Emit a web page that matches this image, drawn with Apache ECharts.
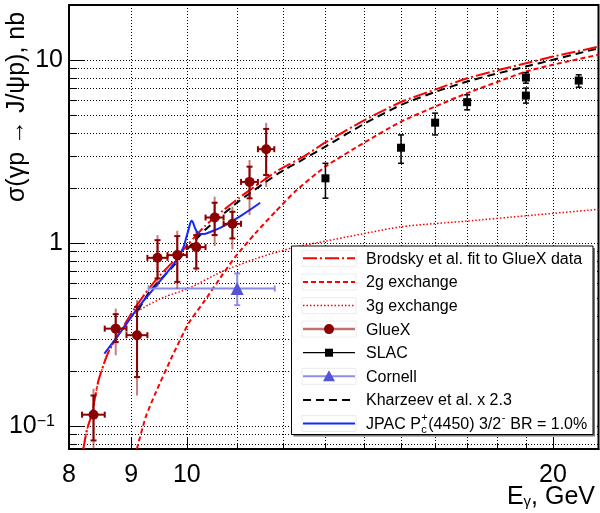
<!DOCTYPE html>
<html><head><meta charset="utf-8">
<script src="https://cdn.jsdelivr.net/npm/echarts@6/dist/echarts.min.js"></script>
<style>html,body{margin:0;padding:0;background:#fff}#c{width:600px;height:513px}</style>
</head><body><div id="c"></div>
<script>
const FONT = '"Liberation Sans", Arial, Helvetica, sans-serif';

// ---------- axis ranges / ticks ----------
const xMin = 8, xMax = 21.8, yMin = 0.075, yMax = 20;
const xGridValues = [9, 10, 11, 12, 13, 14, 15, 16, 17, 18, 19, 20];
const xMajorTicks = [9, 10, 20];
const xLabelValues = [8, 9, 10, 20];
const xTickLabels = ['8', '9', '10', '20'];
const yGridValues = [0.08, 0.09, 0.1, 0.2, 0.3, 0.4, 0.5, 0.6, 0.7, 0.8, 0.9, 1, 2, 3, 4, 5, 6, 7, 8, 9, 10, 20];
const yLabelValues = [0.1, 1, 10];
const yTickLabels = ['{b|10}{s|\u22121}{p|}', '{b|1}', '{b|10}'];

// ---------- curves ----------
const brodskyE = [8.22, 8.275, 8.354, 8.46, 8.62, 8.9, 9.07, 9.24, 9.45, 9.72, 10.03, 10.35, 10.7, 11.03, 11.5, 11.9, 12.5, 13.0, 14.0, 15.0, 16.0, 17.0, 18.0, 19.0, 20.0, 21.0, 21.8];
const brodskySigma = [0.075, 0.095, 0.117, 0.178, 0.254, 0.365, 0.445, 0.53, 0.64, 0.78, 0.99, 1.24, 1.5, 1.76, 2.15, 2.51, 3.0, 3.55, 4.7, 5.9, 6.9, 7.95, 8.8, 9.6, 10.45, 11.2, 11.85];

const g2E = [9.097, 9.25, 9.419, 9.72, 10.03, 10.35, 10.69, 10.96, 11.38, 11.82, 12.28, 13.0, 14.0, 15.0, 16.0, 17.0, 18.0, 19.0, 20.0, 21.8];
const g2Sigma = [0.075, 0.112, 0.1504, 0.2385, 0.3634, 0.4877, 0.668, 0.841, 1.13, 1.48, 1.92, 2.62, 3.55, 4.61, 5.57, 6.6, 7.6, 8.66, 9.43, 10.7];

const g3E = [8.22, 8.275, 8.354, 8.46, 8.62, 8.9, 9.07, 9.3, 9.6, 10.03, 10.69, 11.38, 11.9, 12.35, 13.0, 15.0, 17.0, 19.0, 21.8];
const g3Sigma = [0.075, 0.095, 0.117, 0.178, 0.254, 0.36, 0.415, 0.46, 0.51, 0.565, 0.70, 0.82, 0.9, 0.96, 1.025, 1.228, 1.32, 1.41, 1.53];

const khE = [9.12, 9.33, 9.72, 10.03, 10.35, 11.03, 11.9, 12.5, 13.0, 14.0, 15.0, 16.0, 17.0, 18.0, 19.0, 20.0, 21.0, 21.8];
const khSigma = [0.43, 0.55, 0.735, 0.94, 1.18, 1.69, 2.41, 2.9, 3.37, 4.5, 5.69, 6.7, 7.64, 8.45, 9.22, 10.04, 10.9, 11.6];

const jpacE = [8.554, 8.843, 9.126, 9.419, 9.783, 9.938, 9.98, 10.03, 10.07, 10.095, 10.12, 10.16, 10.22, 10.32, 10.45, 10.69, 11.10, 11.49];
const jpacSigma = [0.249, 0.334, 0.448, 0.576, 0.790, 0.954, 1.05, 1.18, 1.30, 1.325, 1.29, 1.20, 1.13, 1.12, 1.15, 1.228, 1.423, 1.662];

// ---------- data points ----------
const gluexE = [8.38, 8.74, 9.10, 9.46, 9.82, 10.18, 10.54, 10.90, 11.26, 11.62];
const gluexSigma = [0.1155, 0.341, 0.314, 0.831, 0.86, 0.951, 1.38, 1.275, 2.16, 3.26];
const gluexELo = [8.20, 8.56, 8.92, 9.28, 9.64, 10.00, 10.36, 10.72, 11.08, 11.44];
const gluexEHi = [8.56, 8.92, 9.28, 9.64, 10.00, 10.36, 10.72, 11.08, 11.44, 11.80];
const gluexStatLo = [0.0835, 0.288, 0.1854, 0.641, 0.614, 0.727, 1.106, 1.061, 1.757, 2.356];
const gluexStatHi = [0.147, 0.409, 0.448, 1.038, 1.092, 1.106, 1.662, 1.483, 2.616, 4.207];
const gluexTotLo = [0.075, 0.244, 0.147, 0.577, 0.565, 0.705, 0.963, 0.924, 1.423, 2.025];
const gluexTotHi = [0.16, 0.439, 0.488, 1.106, 1.168, 1.16, 1.793, 1.58, 2.846, 4.54];

const slacE = [13.0, 15.0, 16.0, 17.0, 19.0, 19.0, 21.0];
const slacSigma = [2.26, 3.32, 4.55, 5.89, 8.03, 6.4, 7.73];
const slacLo = [1.76, 2.73, 3.9, 5.35, 7.48, 5.82, 7.11];
const slacHi = [2.73, 3.9, 5.13, 6.46, 8.55, 7.03, 8.31];

const cornellE = [11.0];
const cornellSigma = [0.565];
const cornellELo = [9.30];
const cornellEHi = [11.81];
const cornellLo = [0.458];
const cornellHi = [0.683];

// ---------- helpers ----------
const zip = (a, b) => a.map((v, i) => [v, b[i]]);
const RED = '#ff0000', DARKRED = '#8b0000', LIGHTRED = 'rgba(139,0,0,0.5)';
const BLUE = '#1428ff', CORN_M = '#5353dc', CORN_L = '#8c8ce9';

function line(x1, y1, x2, y2, style) {
  return { type: 'line', shape: { x1, y1, x2, y2 }, style };
}

function renderGlueX(params, api) {
  const x = api.value(0), y = api.value(1);
  const c = api.coord([x, y]);
  const xl = api.coord([api.value(2), y])[0], xh = api.coord([api.value(3), y])[0];
  const sl = api.coord([x, api.value(4)])[1], sh = api.coord([x, api.value(5)])[1];
  const tl = api.coord([x, api.value(6)])[1], th = api.coord([x, api.value(7)])[1];
  const light = { stroke: LIGHTRED, lineWidth: 2 };
  const dark = { stroke: DARKRED, lineWidth: 2 };
  const cap = 3;
  return { type: 'group', children: [
    line(c[0], tl, c[0], th, light),
    line(c[0], sl, c[0], sh, dark),
    line(c[0] - cap, sl, c[0] + cap, sl, dark),
    line(c[0] - cap, sh, c[0] + cap, sh, dark),
    line(xl, c[1], xh, c[1], dark),
    line(xl, c[1] - cap, xl, c[1] + cap, dark),
    line(xh, c[1] - cap, xh, c[1] + cap, dark)
  ]};
}

function renderSimple(color, width, withX) {
  return function (params, api) {
    const x = api.value(0), y = api.value(1);
    const c = api.coord([x, y]);
    const st = { stroke: color, lineWidth: width };
    const cap = 3;
    const ch = [];
    const lo = api.coord([x, api.value(withX ? 4 : 2)])[1];
    const hi = api.coord([x, api.value(withX ? 5 : 3)])[1];
    ch.push(line(c[0], lo, c[0], hi, st));
    ch.push(line(c[0] - cap, lo, c[0] + cap, lo, st));
    ch.push(line(c[0] - cap, hi, c[0] + cap, hi, st));
    if (withX) {
      const xl = api.coord([api.value(2), y])[0], xh = api.coord([api.value(3), y])[0];
      ch.push(line(xl, c[1], xh, c[1], st));
      ch.push(line(xl, c[1] - cap, xl, c[1] + cap, st));
      ch.push(line(xh, c[1] - cap, xh, c[1] + cap, st));
    }
    return { type: 'group', children: ch };
  };
}

const gluexRows = gluexE.map((e, i) => [e, gluexSigma[i], gluexELo[i], gluexEHi[i], gluexStatLo[i], gluexStatHi[i], gluexTotLo[i], gluexTotHi[i]]);
const slacRows = slacE.map((e, i) => [e, slacSigma[i], slacLo[i], slacHi[i]]);
const cornellRows = cornellE.map((e, i) => [e, cornellSigma[i], cornellELo[i], cornellEHi[i], cornellLo[i], cornellHi[i]]);

// ---------- legend (graphic) ----------
const mctx = document.createElement('canvas').getContext('2d');
function tw(text, size) { mctx.font = size + 'px ' + FONT; return mctx.measureText(text).width; }

const LG = { x: 291.5, y: 246, w: 301.5, h: 188.5, row0: 258.3, dy: 23.6, ix1: 303, ix2: 355, tx: 366, fs: 16 };
const legendItems = [
  { label: 'Brodsky et al. fit to GlueX data', line: { stroke: RED, lineWidth: 2, lineDash: [14, 3, 2, 3] }, box: true },
  { label: '2g exchange', line: { stroke: RED, lineWidth: 2, lineDash: [5, 3] }, box: true },
  { label: '3g exchange', line: { stroke: RED, lineWidth: 1.5, lineDash: [1.5, 2] }, box: true },
  { label: 'GlueX', line: { stroke: 'rgba(139,0,0,0.55)', lineWidth: 2.5 }, sym: 'circle', symColor: DARKRED, box: true },
  { label: 'SLAC', line: { stroke: '#000', lineWidth: 1.2 }, sym: 'square', symColor: '#000' },
  { label: 'Cornell', line: { stroke: CORN_L, lineWidth: 2 }, sym: 'triangle', symColor: CORN_M, box: true },
  { label: 'Kharzeev et al. x 2.3', line: { stroke: '#000', lineWidth: 2, lineDash: [8, 5] } },
  { label: 'JPAC', line: { stroke: BLUE, lineWidth: 2 }, box: true, jpac: true }
];

function buildLegend() {
  const els = [];
  els.push({ type: 'rect', shape: { x: LG.x + 2, y: LG.y + 2, width: LG.w, height: LG.h }, style: { fill: '#777' }, z: 100 });
  els.push({ type: 'rect', shape: { x: LG.x, y: LG.y, width: LG.w, height: LG.h }, style: { fill: '#fff', stroke: '#000', lineWidth: 1 }, z: 101 });
  legendItems.forEach((it, i) => {
    const cy = LG.row0 + i * LG.dy;
    if (it.box) els.push({ type: 'rect', shape: { x: LG.ix1 - 1, y: cy - 8, width: LG.ix2 - LG.ix1 + 2, height: 16 }, style: { fill: 'none', stroke: '#ececec', lineWidth: 1 }, z: 102 });
    els.push({ type: 'line', shape: { x1: LG.ix1, y1: cy, x2: LG.ix2, y2: cy }, style: Object.assign({}, it.line), z: 103 });
    const mx = (LG.ix1 + LG.ix2) / 2;
    if (it.sym === 'circle') els.push({ type: 'circle', shape: { cx: mx, cy, r: 5 }, style: { fill: it.symColor }, z: 104 });
    if (it.sym === 'square') els.push({ type: 'rect', shape: { x: mx - 4, y: cy - 4, width: 8, height: 8 }, style: { fill: it.symColor }, z: 104 });
    if (it.sym === 'triangle') els.push({ type: 'polygon', shape: { points: [[mx, cy - 6], [mx - 6, cy + 5], [mx + 6, cy + 5]] }, style: { fill: it.symColor }, z: 104 });
    const ts = (t, x, y, size) => ({ type: 'text', x, y, z: 105, style: { text: t, font: size + 'px ' + FONT, fill: '#000', textAlign: 'left', textVerticalAlign: 'middle' } });
    if (!it.jpac) {
      els.push(ts(it.label, LG.tx, cy + 1, LG.fs));
    } else {
      let x = LG.tx;
      const a = 'JPAC P';
      els.push(ts(a, x, cy + 1, LG.fs)); x += tw(a, LG.fs);
      els.push(ts('c', x + 0.5, cy + 6, 11));
      els.push(ts('+', x + 0.5, cy - 6, 11));
      x += Math.max(tw('c', 11), tw('+', 11)) + 1;
      const b = '(4450) 3/2';
      els.push(ts(b, x, cy + 1, LG.fs)); x += tw(b, LG.fs);
      els.push(ts('-', x + 0.5, cy - 6, 11)); x += tw('-', 11) + 1;
      els.push(ts(' BR = 1.0%', x, cy + 1, LG.fs));
    }
  });
  return els;
}

// ---------- chart ----------
const chart = echarts.init(document.getElementById('c'), null, { renderer: 'canvas' });
const gridLine = { show: true, lineStyle: { color: '#000', width: 1, type: [1, 2] } };

const option = {
  animation: false,
  backgroundColor: '#fff',
  grid: { left: 69, right: 1.5, top: 5, bottom: 64, containLabel: false, outerBoundsMode: 'none', show: true, borderColor: '#000', borderWidth: 2 },
  xAxis: [
    { type: 'log', logBase: 10, min: xMin, max: xMax, position: 'bottom',
      axisLine: { show: true, lineStyle: { color: '#000', width: 2 } },
      axisTick: { show: true, inside: true, length: 6, customValues: xGridValues, lineStyle: { color: '#000' } },
      splitLine: gridLine, minorTick: { show: false }, minorSplitLine: { show: false },
      axisLabel: { show: true, customValues: xLabelValues, margin: 14, fontSize: 25, fontFamily: FONT, color: '#000',
        formatter: v => { const i = xLabelValues.findIndex(t => Math.abs(t - v) < 1e-6); return i >= 0 ? xTickLabels[i] : ''; } } },
    { type: 'log', logBase: 10, min: xMin, max: xMax, position: 'bottom',
      axisLine: { show: false }, splitLine: { show: false }, axisLabel: { show: false },
      axisTick: { show: true, inside: true, length: 12, customValues: xMajorTicks, lineStyle: { color: '#000' } } }
  ],
  yAxis: [
    { type: 'log', logBase: 10, min: yMin, max: yMax, position: 'left',
      axisLine: { show: true, lineStyle: { color: '#000', width: 2 } },
      axisTick: { show: true, inside: true, length: 8, customValues: yGridValues, lineStyle: { color: '#000' } },
      splitLine: gridLine, minorTick: { show: false }, minorSplitLine: { show: false },
      axisLabel: { show: true, customValues: yLabelValues, margin: 6, color: '#000',
        formatter: v => { const i = yLabelValues.findIndex(t => Math.abs(t - v) / t < 1e-6); return i >= 0 ? yTickLabels[i] : ''; },
        rich: { b: { fontSize: 25, fontFamily: FONT, color: '#000' }, s: { fontSize: 16, fontFamily: FONT, color: '#000', verticalAlign: 'top' }, p: { width: 8 } } } },
    { type: 'log', logBase: 10, min: yMin, max: yMax, position: 'left',
      axisLine: { show: false }, splitLine: { show: false }, axisLabel: { show: false },
      axisTick: { show: true, inside: true, length: 16, customValues: yLabelValues, lineStyle: { color: '#000' } } }
  ],
  series: [
    { name: '3g exchange', type: 'line', data: zip(g3E, g3Sigma), showSymbol: false, smooth: 0.2, clip: true, z: 3,
      lineStyle: { color: RED, width: 1.5, type: [1.5, 2] } },
    { name: '2g exchange', type: 'line', data: zip(g2E, g2Sigma), showSymbol: false, smooth: 0.2, clip: true, z: 3,
      lineStyle: { color: RED, width: 2, type: [5, 3] } },
    { name: 'Kharzeev et al. x 2.3', type: 'line', data: zip(khE, khSigma), showSymbol: false, smooth: 0.2, clip: true, z: 3,
      lineStyle: { color: '#000', width: 2, type: [8, 5] } },
    { name: 'Brodsky et al. fit to GlueX data', type: 'line', data: zip(brodskyE, brodskySigma), showSymbol: false, smooth: 0.2, clip: true, z: 4,
      lineStyle: { color: RED, width: 2, type: [14, 3, 2, 3] } },
    { name: 'JPAC', type: 'line', data: zip(jpacE, jpacSigma), showSymbol: false, smooth: 0.3, clip: true, z: 4,
      lineStyle: { color: BLUE, width: 2 } },
    { name: 'Cornell bars', type: 'custom', data: cornellRows, encode: { x: 0, y: 1 }, renderItem: renderSimple(CORN_L, 2, true), clip: true, z: 5 },
    { name: 'Cornell', type: 'scatter', data: zip(cornellE, cornellSigma), symbol: 'triangle', symbolSize: 13, itemStyle: { color: CORN_M, opacity: 1 }, z: 6 },
    { name: 'SLAC bars', type: 'custom', data: slacRows, encode: { x: 0, y: 1 }, renderItem: renderSimple('#000', 1.5, false), clip: true, z: 5 },
    { name: 'SLAC', type: 'scatter', data: zip(slacE, slacSigma), symbol: 'rect', symbolSize: 8, itemStyle: { color: '#000', opacity: 1 }, z: 6 },
    { name: 'GlueX bars', type: 'custom', data: gluexRows, encode: { x: 0, y: 1 }, renderItem: renderGlueX, clip: true, z: 5 },
    { name: 'GlueX', type: 'scatter', data: zip(gluexE, gluexSigma), symbol: 'circle', symbolSize: 10, itemStyle: { color: DARKRED, opacity: 1 }, z: 6 }
  ],
  graphic: [
    { type: 'text', x: 17, y: 107, rotation: Math.PI / 2, z: 50,
      style: { text: '\u03c3(\u03b3p \u2192 J/\u03c8p), nb', font: '25px ' + FONT, fill: '#000', textAlign: 'center', textVerticalAlign: 'middle' } },
    { type: 'text', x: 595, y: 497, z: 50,
      style: { text: '{a|E}{s|\u03b3}{a|, GeV}', textAlign: 'right', textVerticalAlign: 'middle',
        rich: { a: { fontSize: 25, fontFamily: FONT, fill: '#000', color: '#000' }, s: { fontSize: 15, fontFamily: FONT, color: '#000', verticalAlign: 'bottom' } } } }
  ].concat(buildLegend())
};
chart.setOption(option);
</script></body></html>
